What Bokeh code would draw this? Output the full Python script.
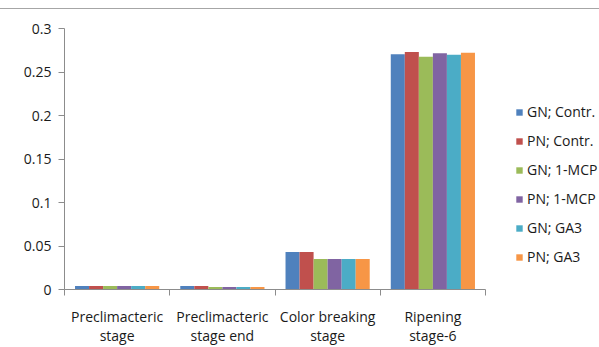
from bokeh.plotting import figure
from bokeh.models import (Range1d, FixedTicker, NumeralTickFormatter, Legend, LegendItem,
                          ColumnDataSource, Div)
from bokeh.layouts import column
from bokeh.embed import file_html
from bokeh.resources import INLINE

categories = ["Preclimacteric\nstage", "Preclimacteric\nstage end",
              "Color breaking\nstage", "Ripening\nstage-6"]
series_names = ["GN; Contr.", "PN; Contr.", "GN; 1-MCP", "PN; 1-MCP", "GN; GA3", "PN; GA3"]
gn_contr = [0.004, 0.004, 0.043, 0.2705]
pn_contr = [0.004, 0.004, 0.043, 0.273]
gn_mcp = [0.004, 0.003, 0.035, 0.2675]
pn_mcp = [0.004, 0.003, 0.035, 0.2715]
gn_ga3 = [0.004, 0.003, 0.035, 0.2698]
pn_ga3 = [0.004, 0.003, 0.035, 0.2722]
y_ticks = [0, 0.05, 0.1, 0.15, 0.2, 0.25, 0.3]

series_values = [gn_contr, pn_contr, gn_mcp, pn_mcp, gn_ga3, pn_ga3]
colors = ["#4F81BD", "#C0504D", "#9BBB59", "#8064A2", "#4BACC6", "#F79646"]

FONT = "Open Sans"
TXT = "#1a1a1a"
AX = "#8c8c8c"

ncat = len(categories)
# frame spans from the y axis to the right edge; the category axis covers 421 px of it
x_end = ncat * (599 - 64) / 421.0

p = figure(width=599, height=338, output_backend="svg", toolbar_location=None,
           x_range=Range1d(0, x_end), y_range=Range1d(0, 0.3),
           min_border_left=64, min_border_right=0, min_border_top=19, min_border_bottom=56)
p.outline_line_color = None
p.xgrid.visible = False
p.ygrid.visible = False

n = len(series_names)
group_frac = 0.8
bw = group_frac / n
renderers = []
for k, (name, vals, col) in enumerate(zip(series_names, series_values, colors)):
    xs = [i + (1 - group_frac) / 2 + (k + 0.5) * bw for i in range(ncat)]
    src = ColumnDataSource(dict(x=xs, top=vals))
    r = p.vbar(x="x", top="top", width=bw, bottom=0, source=src,
               fill_color=col, line_color=None)
    renderers.append((name, r))

# x axis
xa = p.xaxis[0]
xa.bounds = (0, ncat)
xa.ticker = FixedTicker(ticks=[i + 0.5 for i in range(ncat)],
                        minor_ticks=list(range(ncat + 1)))
xa.major_label_overrides = {i + 0.5: c for i, c in enumerate(categories)}
xa.major_tick_out = 0
xa.major_tick_in = 0
xa.minor_tick_out = 6
xa.minor_tick_in = 0
xa.minor_tick_line_color = AX
xa.axis_line_color = AX
xa.major_label_text_font = FONT
xa.major_label_text_font_size = "14px"
xa.major_label_text_color = TXT
xa.major_label_text_line_height = 1.0
xa.major_label_standoff = 11

# y axis
ya = p.yaxis[0]
ya.ticker = FixedTicker(ticks=y_ticks)
ya.formatter = NumeralTickFormatter(format="0.[00]")
ya.minor_tick_line_color = None
ya.major_tick_out = 6
ya.major_tick_in = 0
ya.major_tick_line_color = AX
ya.axis_line_color = AX
ya.major_label_text_font = FONT
ya.major_label_text_font_size = "14px"
ya.major_label_text_color = TXT
ya.major_label_standoff = 7

legend = Legend(items=[LegendItem(label=nm, renderers=[r]) for nm, r in renderers],
                location=(451, 23), orientation="vertical",
                glyph_width=8, glyph_height=8, label_height=19, spacing=10,
                label_standoff=4, padding=0, margin=0,
                border_line_color=None, background_fill_alpha=0,
                label_text_font=FONT, label_text_font_size="14px",
                label_text_color=TXT)
p.add_layout(legend)

top_line = Div(width=599, height=1, margin=(8, 0, 0, 0),
               styles={"background-color": "#a6a6a6"})

layout = column(top_line, p, spacing=0)
open("out.html", "w").write(file_html(layout, INLINE))
